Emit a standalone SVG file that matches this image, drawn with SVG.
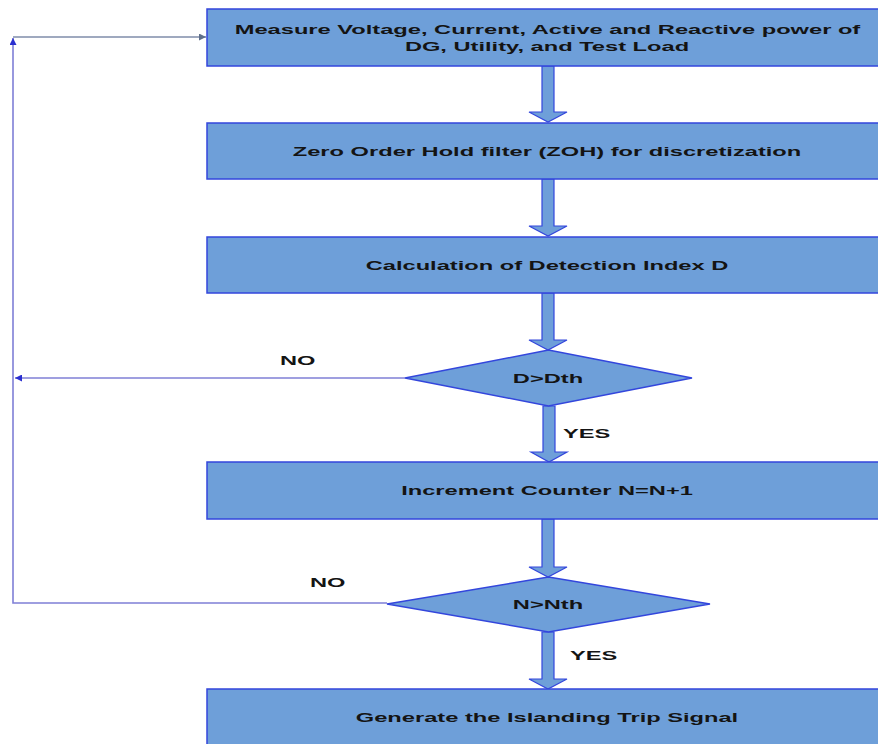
<svg xmlns="http://www.w3.org/2000/svg" width="878" height="744" viewBox="0 0 878 744">
<defs>
<style>
.box{fill:#6e9fd9;stroke:#3346dc;stroke-width:1.5}
.barrow{fill:#6e9fd9;stroke:#3346dc;stroke-width:1.2}
.t{font-family:"Liberation Sans",Arial,sans-serif;font-weight:bold;font-size:13px;fill:#141414;text-anchor:middle}
.l{font-family:"Liberation Sans",Arial,sans-serif;font-weight:bold;font-size:13px;fill:#141414;text-anchor:start}
.ln{fill:none;stroke:#7f7fd6;stroke-width:1.6}
.lt{fill:none;stroke:#7f8daa;stroke-width:1.6}
</style>
<marker id="ah" viewBox="0 0 10 10" refX="10" refY="5" markerWidth="9" markerHeight="7" markerUnits="userSpaceOnUse" orient="auto">
<path d="M0,0 L10,5 L0,10 z" fill="#2a2fd0"/>
</marker>
<marker id="ahg" viewBox="0 0 10 10" refX="10" refY="5" markerWidth="9" markerHeight="7" markerUnits="userSpaceOnUse" orient="auto">
<path d="M0,0 L10,5 L0,10 z" fill="#5f6f8a"/>
</marker>
</defs>
<rect width="878" height="744" fill="#ffffff"/>

<g id="connectors">
<polyline class="ln" points="387,603 13,603 13,38" marker-end="url(#ah)"/>
<line class="lt" x1="13" y1="37" x2="206" y2="37" marker-end="url(#ahg)"/>
<line class="ln" x1="405" y1="378" x2="15" y2="378" marker-end="url(#ah)"/>
<polygon class="barrow" points="542,66 554,66 554,112 567,112 548,122 529,112 542,112"/>
<polygon class="barrow" points="542,179 554,179 554,226 567,226 548,236 529,226 542,226"/>
<polygon class="barrow" points="542,293 554,293 554,340 567,340 548,350 529,340 542,340"/>
<polygon class="barrow" points="543,406 555,406 555,452 567,452 549,462 531,452 543,452"/>
<polygon class="barrow" points="542,519 554,519 554,567 567,567 548,577 529,567 542,567"/>
<polygon class="barrow" points="542,632 554,632 554,679 567,679 548,689 529,679 542,679"/>
<text class="l" transform="translate(280,365) scale(1.82,1)">NO</text>
<text class="l" transform="translate(310,587) scale(1.82,1)">NO</text>
<text class="l" transform="translate(563,438) scale(1.82,1)">YES</text>
<text class="l" transform="translate(570,660) scale(1.82,1)">YES</text>
</g>

<g id="measure">
<rect class="box" x="207" y="9" width="690" height="57"/>
<text class="t" transform="translate(547.5,34) scale(1.82,1)">Measure Voltage, Current, Active and Reactive power of</text>
<text class="t" transform="translate(547,51) scale(1.82,1)">DG, Utility, and Test Load</text>
</g>

<g id="zoh">
<rect class="box" x="207" y="123" width="690" height="56"/>
<text class="t" transform="translate(547,155.5) scale(1.82,1)">Zero Order Hold filter (ZOH) for discretization</text>
</g>

<g id="calc">
<rect class="box" x="207" y="237" width="690" height="56"/>
<text class="t" transform="translate(547,269.5) scale(1.82,1)">Calculation of Detection Index D</text>
</g>

<g id="dec1">
<polygon class="box" points="405,378 548.5,350 692,378 548.5,406"/>
<text class="t" transform="translate(548,382.5) scale(1.82,1)">D&gt;Dth</text>
</g>

<g id="counter">
<rect class="box" x="207" y="462" width="690" height="57"/>
<text class="t" transform="translate(547,495) scale(1.82,1)">Increment Counter N=N+1</text>
</g>

<g id="dec2">
<polygon class="box" points="387,604 548.5,577 710,604 548.5,632"/>
<text class="t" transform="translate(548,608.5) scale(1.82,1)">N&gt;Nth</text>
</g>

<g id="trip">
<rect class="box" x="207" y="689" width="690" height="70"/>
<text class="t" transform="translate(547,721.5) scale(1.82,1)">Generate the Islanding Trip Signal</text>
</g>
</svg>
